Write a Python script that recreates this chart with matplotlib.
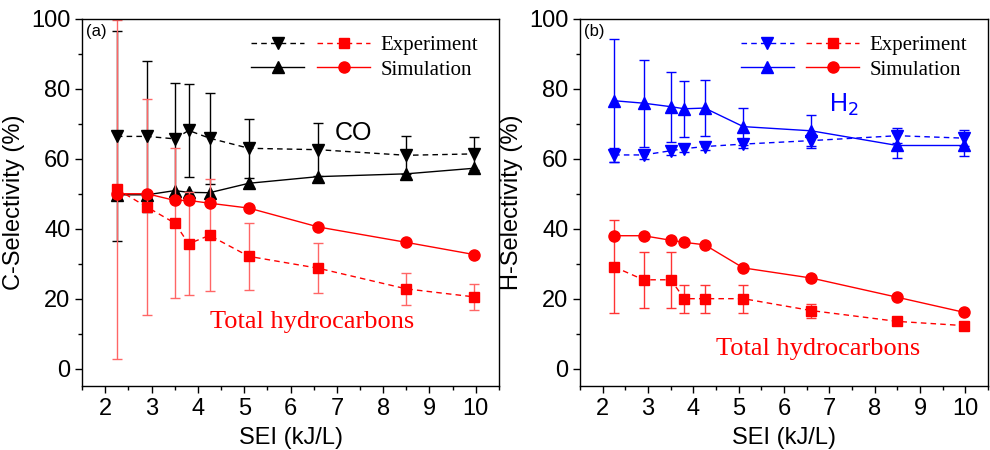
import numpy as np
import matplotlib
matplotlib.use("Agg")
import matplotlib.pyplot as plt
from matplotlib.legend_handler import HandlerTuple
from matplotlib.ticker import MultipleLocator

plt.rcParams['font.family'] = ['Liberation Sans', 'DejaVu Sans']

# SEI values (kJ/L)
sei = [2.25, 2.9, 3.5, 3.8, 4.25, 5.1, 6.6, 8.5, 9.97]

# (a) carbon selectivity
co_exp = [66.4, 66.4, 65.7, 68.1, 65.9, 63.0, 62.6, 61.0, 61.4]
co_exp_err = [30.0, 21.5, 16.0, 13.2, 13.0, 8.5, 7.6, 5.4, 4.7]
co_sim = [49.7, 49.7, 50.9, 50.4, 50.3, 53.0, 54.9, 55.7, 57.3]
hc_exp_a = [51.3, 46.2, 41.6, 35.7, 38.1, 32.1, 28.7, 22.8, 20.5]
hc_exp_a_err = [48.5, 31.0, 21.4, 14.7, 16.0, 9.5, 7.2, 4.6, 3.7]
hc_sim_a = [50.0, 50.0, 48.1, 48.1, 47.3, 45.9, 40.5, 36.1, 32.6]

# (b) hydrogen selectivity
h2_exp = [61.1, 61.1, 62.3, 62.9, 63.5, 64.2, 65.2, 66.6, 65.9]
h2_exp_err = [2.0, 1.2, 1.2, 1.0, 1.0, 1.0, 2.0, 2.2, 2.2]
h2_sim = [76.6, 75.9, 74.9, 74.3, 74.5, 69.2, 68.0, 63.8, 63.8]
h2_sim_err = [17.6, 12.4, 10.0, 8.0, 8.0, 5.2, 4.4, 3.5, 3.0]
hc_exp_b = [29.1, 25.4, 25.4, 20.0, 20.0, 20.0, 16.6, 13.5, 12.3]
hc_exp_b_err = [13.3, 8.0, 8.0, 4.0, 4.0, 4.0, 2.0, 0.8, 0.6]
hc_sim_b = [38.0, 38.0, 36.7, 36.1, 35.4, 28.8, 25.9, 20.4, 16.1]

serif = 'Liberation Serif'
dash = (0, (4, 3))
ms = 8

fig = plt.figure(figsize=(9.9, 4.5), dpi=100)
ax1 = fig.add_axes([0.083, 0.142, 0.421, 0.816])
ax2 = fig.add_axes([0.586, 0.142, 0.412, 0.816])


def style_axis(ax, ylabel, tag):
    ax.set_xlim(1.5, 10.5)
    ax.set_ylim(-5, 100)
    ax.xaxis.set_major_locator(MultipleLocator(1))
    ax.xaxis.set_minor_locator(MultipleLocator(0.5))
    ax.yaxis.set_major_locator(MultipleLocator(20))
    ax.yaxis.set_minor_locator(MultipleLocator(10))
    ax.tick_params(which='major', direction='out', length=5, width=1, labelsize=17)
    ax.tick_params(which='minor', direction='out', length=3, width=1)
    ax.set_xlabel('SEI (kJ/L)', fontsize=17, labelpad=5)
    ax.set_ylabel(ylabel, fontsize=17, labelpad=4)
    for s in ax.spines.values():
        s.set_linewidth(1)
    ax.text(0.01, 0.985, tag, transform=ax.transAxes, fontsize=12, va='top', ha='left')


def add_legend(ax, c):
    h_exp = (ax.plot([], [], color=c, ls=dash, lw=1, marker='v', ms=ms)[0],
             ax.plot([], [], color='red', ls=dash, lw=1, marker='s', ms=ms - 1)[0])
    h_sim = (ax.plot([], [], color=c, lw=1, marker='^', ms=ms)[0],
             ax.plot([], [], color='red', lw=1, marker='o', ms=ms)[0])
    ax.legend([h_exp, h_sim], ['Experiment', 'Simulation'],
              handler_map={tuple: HandlerTuple(ndivide=None, pad=0.6)},
              loc='upper right', bbox_to_anchor=(0.985, 0.995), frameon=False,
              prop={'family': serif, 'size': 15}, handlelength=5.7,
              handletextpad=0.5, labelspacing=0.25, borderaxespad=0.3)


# panel (a)
ax1.errorbar(sei, co_exp, yerr=co_exp_err, color='black', ls=dash, lw=1,
             marker='v', ms=ms, capsize=3.5, elinewidth=1)
ax1.plot(sei, co_sim, color='black', lw=1, marker='^', ms=ms)
ax1.errorbar(sei, hc_exp_a, yerr=hc_exp_a_err, color='red', ls=dash, lw=1,
             marker='s', ms=ms - 1, capsize=3.5, elinewidth=1, ecolor='#ff6666')
ax1.plot(sei, hc_sim_a, color='red', lw=1, marker='o', ms=ms)
style_axis(ax1, 'C-Selectivity (%)', '(a)')
ax1.text(6.95, 65.5, 'CO', fontsize=18, color='black')
ax1.text(4.26, 11.5, 'Total hydrocarbons', fontsize=19, color='red', family=serif)
add_legend(ax1, 'black')

# panel (b)
ax2.errorbar(sei, h2_exp, yerr=h2_exp_err, color='blue', ls=dash, lw=1,
             marker='v', ms=ms, capsize=3.5, elinewidth=1)
ax2.errorbar(sei, h2_sim, yerr=h2_sim_err, color='blue', lw=1,
             marker='^', ms=ms, capsize=3.5, elinewidth=1)
ax2.errorbar(sei, hc_exp_b, yerr=hc_exp_b_err, color='red', ls=dash, lw=1,
             marker='s', ms=ms - 1, capsize=3.5, elinewidth=1, ecolor='#ff3333')
ax2.plot(sei, hc_sim_b, color='red', lw=1, marker='o', ms=ms)
style_axis(ax2, 'H-Selectivity (%)', '(b)')
ax2.text(7.0, 73.5, 'H$_2$', fontsize=18, color='blue')
ax2.text(4.49, 4.0, 'Total hydrocarbons', fontsize=19, color='red', family=serif)
add_legend(ax2, 'blue')

fig.savefig('out.png', dpi=100)
